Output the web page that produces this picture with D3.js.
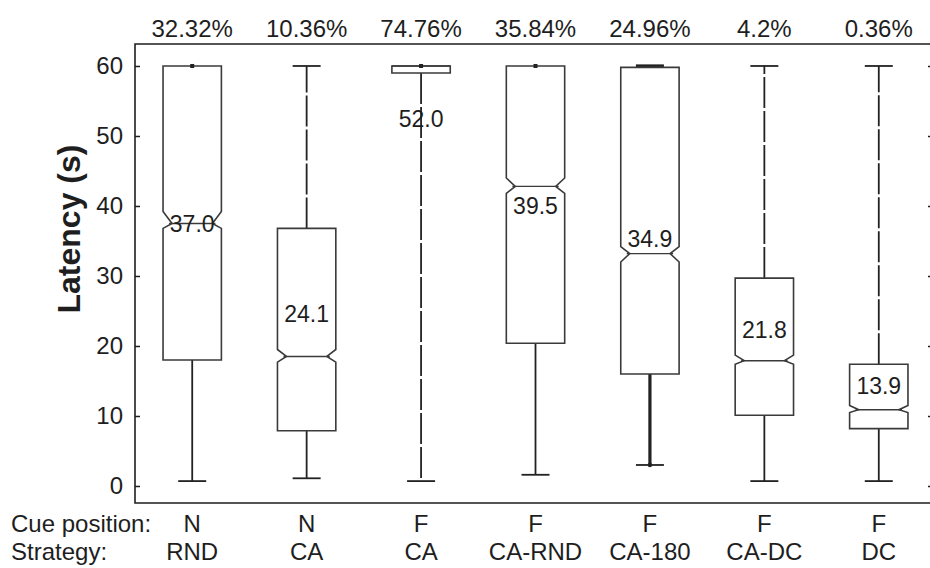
<!DOCTYPE html>
<html>
<head>
<meta charset="utf-8">
<script src="https://cdn.jsdelivr.net/npm/d3@7"></script>
<style>
  html, body { margin: 0; padding: 0; background: #fff; }
  svg { display: block; }
  text { font-family: "Liberation Sans", Arial, sans-serif; fill: #1e1e1e; }
</style>
</head>
<body>
<script>
// ---- data ----
const strategies  = ["RND", "CA", "CA", "CA-RND", "CA-180", "CA-DC", "DC"];
const cuePositions = ["N", "N", "F", "F", "F", "F", "F"];
const percentages = ["32.32%", "10.36%", "74.76%", "35.84%", "24.96%", "4.2%", "0.36%"];
const whiskerLow  = [0.7, 1.1, 0.7, 1.6, 3.0, 0.7, 0.7];
const quartile1   = [18.0, 7.9, 59.0, 20.4, 16.0, 10.1, 8.2];
const medians     = [37.5, 18.5, 60.0, 42.8, 33.2, 17.9, 10.9];
const quartile3   = [60.0, 36.8, 60.0, 60.0, 59.8, 29.7, 17.4];
const whiskerHigh = [60, 60, 60, 60, 60, 60, 60];
const notchLow    = [36.8, 17.7, 60.0, 41.8, 32.0, 17.4, 10.5];
const notchHigh   = [39.2, 19.5, 60.0, 44.0, 34.2, 18.7, 11.5];
const means       = [37.0, 24.1, 52.0, 39.5, 34.9, 21.8, 13.9];
const meanLabels  = ["37.0", "24.1", "52.0", "39.5", "34.9", "21.8", "13.9"];
const yTicks      = [0, 10, 20, 30, 40, 50, 60];

// ---- styling (not data) ----
const W = 930, H = 568;
const plotLeft = 135, plotTop = 44, plotBottom = 503, frameRight = 934;
const dashedUpper = [false, true, true, false, false, true, true];
const dashedLower = [false, false, true, false, false, false, false];
const thickWhisker = [false, false, false, false, true, false, false];
const lineColor = "#3a3a3a";

const svg = d3.select("body").append("svg").attr("width", W).attr("height", H);

const idx = d3.range(strategies.length);
const x = d3.scaleBand().domain(idx).range([plotLeft, 936]).padding(0);
const y = d3.scaleLinear().domain([-2.43, 63.14]).range([plotBottom, plotTop]);
const cx = i => x(i) + x.bandwidth() / 2;
const boxW = x.bandwidth() * 0.51;
const capW = 28;
const inset = 9;

// frame
svg.append("path")
  .attr("d", `M${frameRight},${plotTop} L${plotLeft},${plotTop} L${plotLeft},${plotBottom} L${frameRight},${plotBottom} Z`)
  .attr("fill", "none").attr("stroke", "#1e1e1e").attr("stroke-width", 1.6);

// left axis ticks + labels
const yAxis = d3.axisLeft(y).tickValues(yTicks).tickSize(-5).tickPadding(12).tickFormat(d3.format("d"));
const gY = svg.append("g").attr("transform", `translate(${plotLeft},0)`).call(yAxis);
gY.select(".domain").remove();
gY.selectAll(".tick line").attr("stroke", "#1e1e1e").attr("stroke-width", 1.5);
gY.selectAll(".tick text").attr("font-size", 24).attr("font-family", "Liberation Sans, Arial, sans-serif").attr("fill", "#1e1e1e");

// right axis ticks (inward)
const yAxisR = d3.axisRight(y).tickValues(yTicks).tickSize(-6).tickFormat("");
const gYR = svg.append("g").attr("transform", `translate(${frameRight},0)`).call(yAxisR);
gYR.select(".domain").remove();
gYR.selectAll(".tick line").attr("stroke", "#1e1e1e").attr("stroke-width", 1.5);

// y label
svg.append("text")
  .attr("transform", `translate(80,229) rotate(-90)`)
  .attr("text-anchor", "middle")
  .attr("font-size", 32).attr("font-weight", "bold")
  .text("Latency (s)");

// boxes
const g = svg.append("g");
idx.forEach(i => {
  const c = cx(i), xl = c - boxW / 2, xr = c + boxW / 2;
  const sw = thickWhisker[i] ? 3.2 : 1.8;
  // upper whisker
  if (whiskerHigh[i] > quartile3[i]) {
    g.append("line").attr("x1", c).attr("x2", c)
      .attr("y1", y(quartile3[i])).attr("y2", y(whiskerHigh[i]))
      .attr("stroke", "#222").attr("stroke-width", sw)
      .attr("stroke-dasharray", dashedUpper[i] ? "31,3" : null);
    g.append("line").attr("x1", c - capW / 2).attr("x2", c + capW / 2)
      .attr("y1", y(whiskerHigh[i])).attr("y2", y(whiskerHigh[i]))
      .attr("stroke", "#222").attr("stroke-width", sw);
  }
  // lower whisker
  g.append("line").attr("x1", c).attr("x2", c)
    .attr("y1", y(quartile1[i])).attr("y2", y(whiskerLow[i]))
    .attr("stroke", "#222").attr("stroke-width", sw)
    .attr("stroke-dasharray", dashedLower[i] ? "31,3" : null);
  g.append("line").attr("x1", c - capW / 2).attr("x2", c + capW / 2)
    .attr("y1", y(whiskerLow[i])).attr("y2", y(whiskerLow[i]))
    .attr("stroke", "#222").attr("stroke-width", 1.8);
  if (thickWhisker[i]) {
    g.append("circle").attr("cx", c).attr("cy", y(whiskerLow[i])).attr("r", 2.2).attr("fill", "#222");
  }

  // box (notched when the notch fits inside the box)
  const hasNotch = notchLow[i] > quartile1[i] && notchHigh[i] < quartile3[i];
  let d;
  if (hasNotch) {
    d = `M${xl},${y(quartile1[i])} L${xl},${y(notchLow[i])} L${xl + inset},${y(medians[i])} L${xl},${y(notchHigh[i])}` +
        ` L${xl},${y(quartile3[i])} L${xr},${y(quartile3[i])} L${xr},${y(notchHigh[i])} L${xr - inset},${y(medians[i])}` +
        ` L${xr},${y(notchLow[i])} L${xr},${y(quartile1[i])} Z`;
  } else {
    d = `M${xl},${y(quartile1[i])} L${xl},${y(quartile3[i])} L${xr},${y(quartile3[i])} L${xr},${y(quartile1[i])} Z`;
  }
  g.append("path").attr("d", d).attr("fill", "#fff").attr("stroke", lineColor).attr("stroke-width", 1.6);
  // median line
  const mi = hasNotch ? inset - 3 : 0;
  g.append("line").attr("x1", xl + mi).attr("x2", xr - mi)
    .attr("y1", y(medians[i])).attr("y2", y(medians[i]))
    .attr("stroke", lineColor).attr("stroke-width", 1.4);
  // marker where the upper whisker collapses onto the box top
  if (whiskerHigh[i] === quartile3[i]) {
    g.append("rect").attr("x", c - 2).attr("y", y(whiskerHigh[i]) - 2)
      .attr("width", 4).attr("height", 4).attr("fill", "#222");
  }

  // mean label
  g.append("text").attr("x", c).attr("y", y(means[i]) - 3)
    .attr("text-anchor", "middle").attr("dominant-baseline", "central")
    .attr("font-size", 23).text(meanLabels[i]);

  // percentage on top
  svg.append("text").attr("x", c).attr("y", 37)
    .attr("text-anchor", "middle").attr("font-size", 24)
    .text(percentages[i]);

  // category labels
  svg.append("text").attr("x", c).attr("y", 532)
    .attr("text-anchor", "middle").attr("font-size", 24).text(cuePositions[i]);
  svg.append("text").attr("x", c).attr("y", 560)
    .attr("text-anchor", "middle").attr("font-size", 24).text(strategies[i]);
});

// row headers
svg.append("text").attr("x", 11).attr("y", 532).attr("font-size", 24).text("Cue position:");
svg.append("text").attr("x", 11).attr("y", 560).attr("font-size", 24).text("Strategy:");
</script>
</body>
</html>
